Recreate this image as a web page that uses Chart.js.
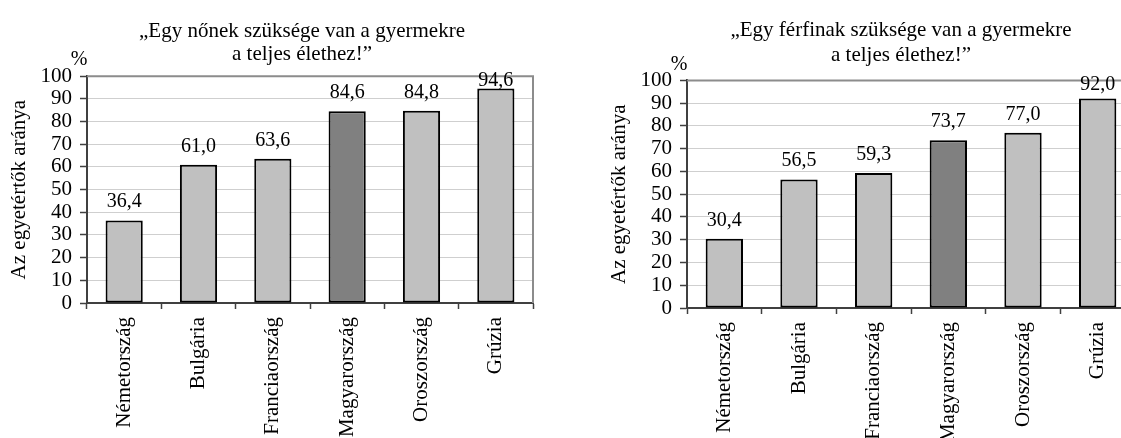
<!DOCTYPE html>
<html>
<head>
<meta charset="utf-8">
<script src="https://cdn.jsdelivr.net/npm/chart.js@4.4.0/dist/chart.umd.min.js"></script>
<style>
    html, body { margin: 0; padding: 0; background: #fff; width: 1121px; height: 438px; overflow: hidden; }
    canvas { position: absolute; top: 0; }
    #women { left: 0; }
    #men { left: 600px; }
</style>
</head>
<body>
<canvas id="women" width="604" height="438"></canvas>
<canvas id="men" width="602" height="438"></canvas>
<script>
// Data
const countries = ['Németország', 'Bulgária', 'Franciaország', 'Magyarország', 'Oroszország', 'Grúzia'];
const womenValues = [36.4, 61.0, 63.6, 84.6, 84.8, 94.6];
const menValues = [30.4, 56.5, 59.3, 73.7, 77.0, 92.0];
const womenTitle = ['\u201EEgy nőnek szüksége van a gyermekre', 'a teljes élethez!\u201D'];
const menTitle = ['\u201EEgy férfinak szüksége van a gyermekre', 'a teljes élethez!\u201D'];
const highlighted = 'Magyarország';
const yAxisTitle = 'Az egyetértők aránya';

Chart.defaults.font.family = "'Liberation Serif', 'Times New Roman', serif";
Chart.defaults.font.size = 20;
Chart.defaults.color = '#000';

const fmt = v => v.toFixed(1).replace('.', ',');

// Gray frame on top and right of the plot area, plus the "%" unit label
const framePlugin = {
    id: 'frame',
    beforeDatasetsDraw(chart) {
        const { ctx, chartArea: a } = chart;
        ctx.save();
        ctx.strokeStyle = '#8c8c8c';
        ctx.lineWidth = 2;
        ctx.beginPath();
        ctx.moveTo(a.left, a.top);
        ctx.lineTo(a.right, a.top);
        ctx.lineTo(a.right, a.bottom);
        ctx.stroke();
        ctx.restore();
    },
    afterDraw(chart) {
        const { ctx, chartArea: a } = chart;
        ctx.save();
        ctx.fillStyle = '#000';
        ctx.font = "20px 'Liberation Serif', serif";
        ctx.textAlign = 'center';
        ctx.textBaseline = 'middle';
        ctx.fillText('%', a.left - 8, a.top - 16);
        ctx.restore();
    }
};

// Value labels above bars, comma decimals, kept inside the frame at the top
const valueLabels = {
    id: 'valueLabels',
    afterDatasetsDraw(chart) {
        const { ctx, chartArea: a } = chart;
        const meta = chart.getDatasetMeta(0);
        const values = chart.data.datasets[0].data;
        ctx.save();
        ctx.fillStyle = '#000';
        ctx.font = "20px 'Liberation Serif', serif";
        ctx.textAlign = 'center';
        ctx.textBaseline = 'alphabetic';
        meta.data.forEach((bar, i) => {
            const y = Math.max(bar.y - 13, a.top + 10);
            ctx.fillText(fmt(values[i]), bar.x, y);
        });
        ctx.restore();
    }
};

function makeChart(id, values, title, opts) {
    const ctx = document.getElementById(id).getContext('2d');
    return new Chart(ctx, {
        type: 'bar',
        data: {
            labels: countries,
            datasets: [{
                data: values,
                backgroundColor: countries.map(c => c === highlighted ? '#808080' : '#c0c0c0'),
                borderColor: '#000',
                borderWidth: 2,
                borderSkipped: false,
                categoryPercentage: 1.0,
                barPercentage: 0.5
            }]
        },
        options: {
            responsive: false,
            animation: false,
            devicePixelRatio: 1,
            layout: {
                padding: { left: 0, right: 0, top: 0, bottom: 0 }
            },
            plugins: {
                legend: { display: false },
                tooltip: { enabled: false },
                title: {
                    display: true,
                    text: title,
                    color: '#000',
                    font: { size: 21, weight: 'normal', lineHeight: opts.lineHeight },
                    padding: { top: opts.titleTop, bottom: opts.titleBottom }
                }
            },
            scales: {
                x: {
                    grid: {
                        drawOnChartArea: false,
                        drawTicks: true,
                        tickLength: 6,
                        offset: true,
                        tickColor: '#404040',
                        tickWidth: 1.5
                    },
                    border: { color: '#404040', width: 2 },
                    ticks: {
                        minRotation: 90,
                        maxRotation: 90,
                        autoSkip: false,
                        padding: 8,
                        font: { size: 21 }
                    },
                    afterFit(scale) { scale.height = opts.xHeight; }
                },
                y: {
                    min: 0,
                    max: 100,
                    ticks: {
                        stepSize: 10,
                        autoSkip: false,
                        padding: 8,
                        font: { size: 21 }
                    },
                    grid: {
                        color: '#cfcfcf',
                        lineWidth: 1,
                        tickLength: 7,
                        tickColor: '#404040',
                        tickWidth: 1.5
                    },
                    border: { color: '#404040', width: 2 },
                    title: {
                        display: true,
                        text: yAxisTitle,
                        color: '#000',
                        font: { size: 21 },
                        padding: { top: 7, bottom: 10 }
                    },
                    afterFit(scale) { scale.width = 87; }
                },
                // empty axis on the right, only reserves room so the title centres like the original
                spacer: {
                    type: 'linear',
                    position: 'right',
                    display: true,
                    grid: { display: false, drawTicks: false },
                    border: { display: false },
                    ticks: { display: false },
                    afterFit(scale) { scale.width = opts.rightRoom; }
                }
            }
        },
        plugins: [framePlugin, valueLabels]
    });
}

makeChart('women', womenValues, womenTitle, {
    lineHeight: 1.1, titleTop: 20, titleBottom: 10, xHeight: 135, rightRoom: 71
});
makeChart('men', menValues, menTitle, {
    lineHeight: 1.2, titleTop: 18, titleBottom: 12, xHeight: 130, rightRoom: 67
});
</script>
</body>
</html>
